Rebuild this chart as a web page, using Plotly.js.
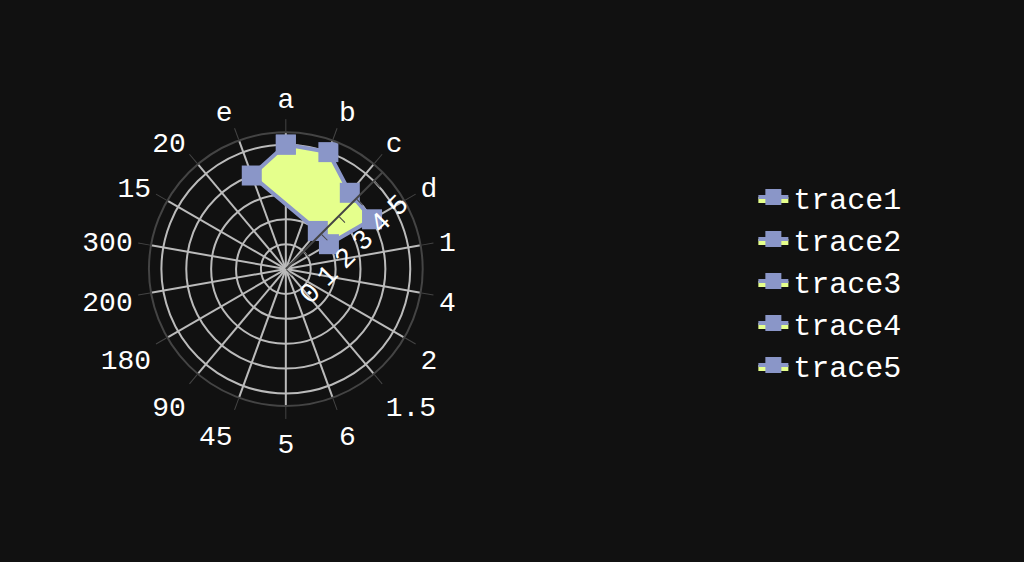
<!DOCTYPE html>
<html>
<head>
<meta charset="UTF-8">
<script src="https://cdn.plot.ly/plotly-3.0.1.min.js"></script>
<style>body{margin:0;background:#111;}</style>
</head>
<body>
<div id="chart" style="width:1024px;height:562px;"></div>
<script>
var categories = ['a','b','c','d','1','4','2','1.5','6','5','45','90','180','200','300','15','20','e'];
var rValues = [5, 5, 4, 4, 2, 2, 4, 5];
var thetaValues = ['a','b','c','d','d','c','e','a'];
var traceNames = ['trace1','trace2','trace3','trace4','trace5'];

var traces = traceNames.map(function (name, i) {
    return {
        type: 'scatterpolar',
        name: name,
        r: i === 0 ? rValues : [null],
        theta: i === 0 ? thetaValues : ['a'],
        fill: 'toself',
        fillcolor: '#e5ff8c',
        mode: 'lines+markers',
        line: { color: '#8a96c8', width: 4 },
        marker: { symbol: 'square', size: 20, color: '#8a96c8' }
    };
});

var layout = {
    paper_bgcolor: '#111',
    plot_bgcolor: '#111',
    font: { family: 'Liberation Mono, monospace', size: 28, color: '#fff' },
    margin: { l: 40, r: 20, t: 60, b: 60 },
    showlegend: true,
    legend: { x: 0.74, y: 0.5, yanchor: 'middle', font: { size: 30 }, tracegroupgap: 10 },
    polar: {
        bgcolor: '#111',
        domain: { x: [0.113, 0.397], y: [0.217, 0.837] },
        angularaxis: {
            type: 'category',
            categoryorder: 'array',
            categoryarray: categories,
            rotation: 90,
            direction: 'clockwise',
            gridcolor: '#bbb',
            gridwidth: 2,
            linecolor: '#444',
            linewidth: 2,
            ticks: 'outside',
            tickcolor: '#444',
            ticklen: 12
        },
        radialaxis: {
            range: [0, 5.5],
            dtick: 1,
            angle: 45,
            gridcolor: '#bbb',
            gridwidth: 2,
            linecolor: '#444',
            linewidth: 2,
            ticks: 'outside',
            tickcolor: '#444',
            ticklen: 8
        }
    }
};

Plotly.newPlot('chart', traces, layout, { displayModeBar: false });
</script>
</body>
</html>
